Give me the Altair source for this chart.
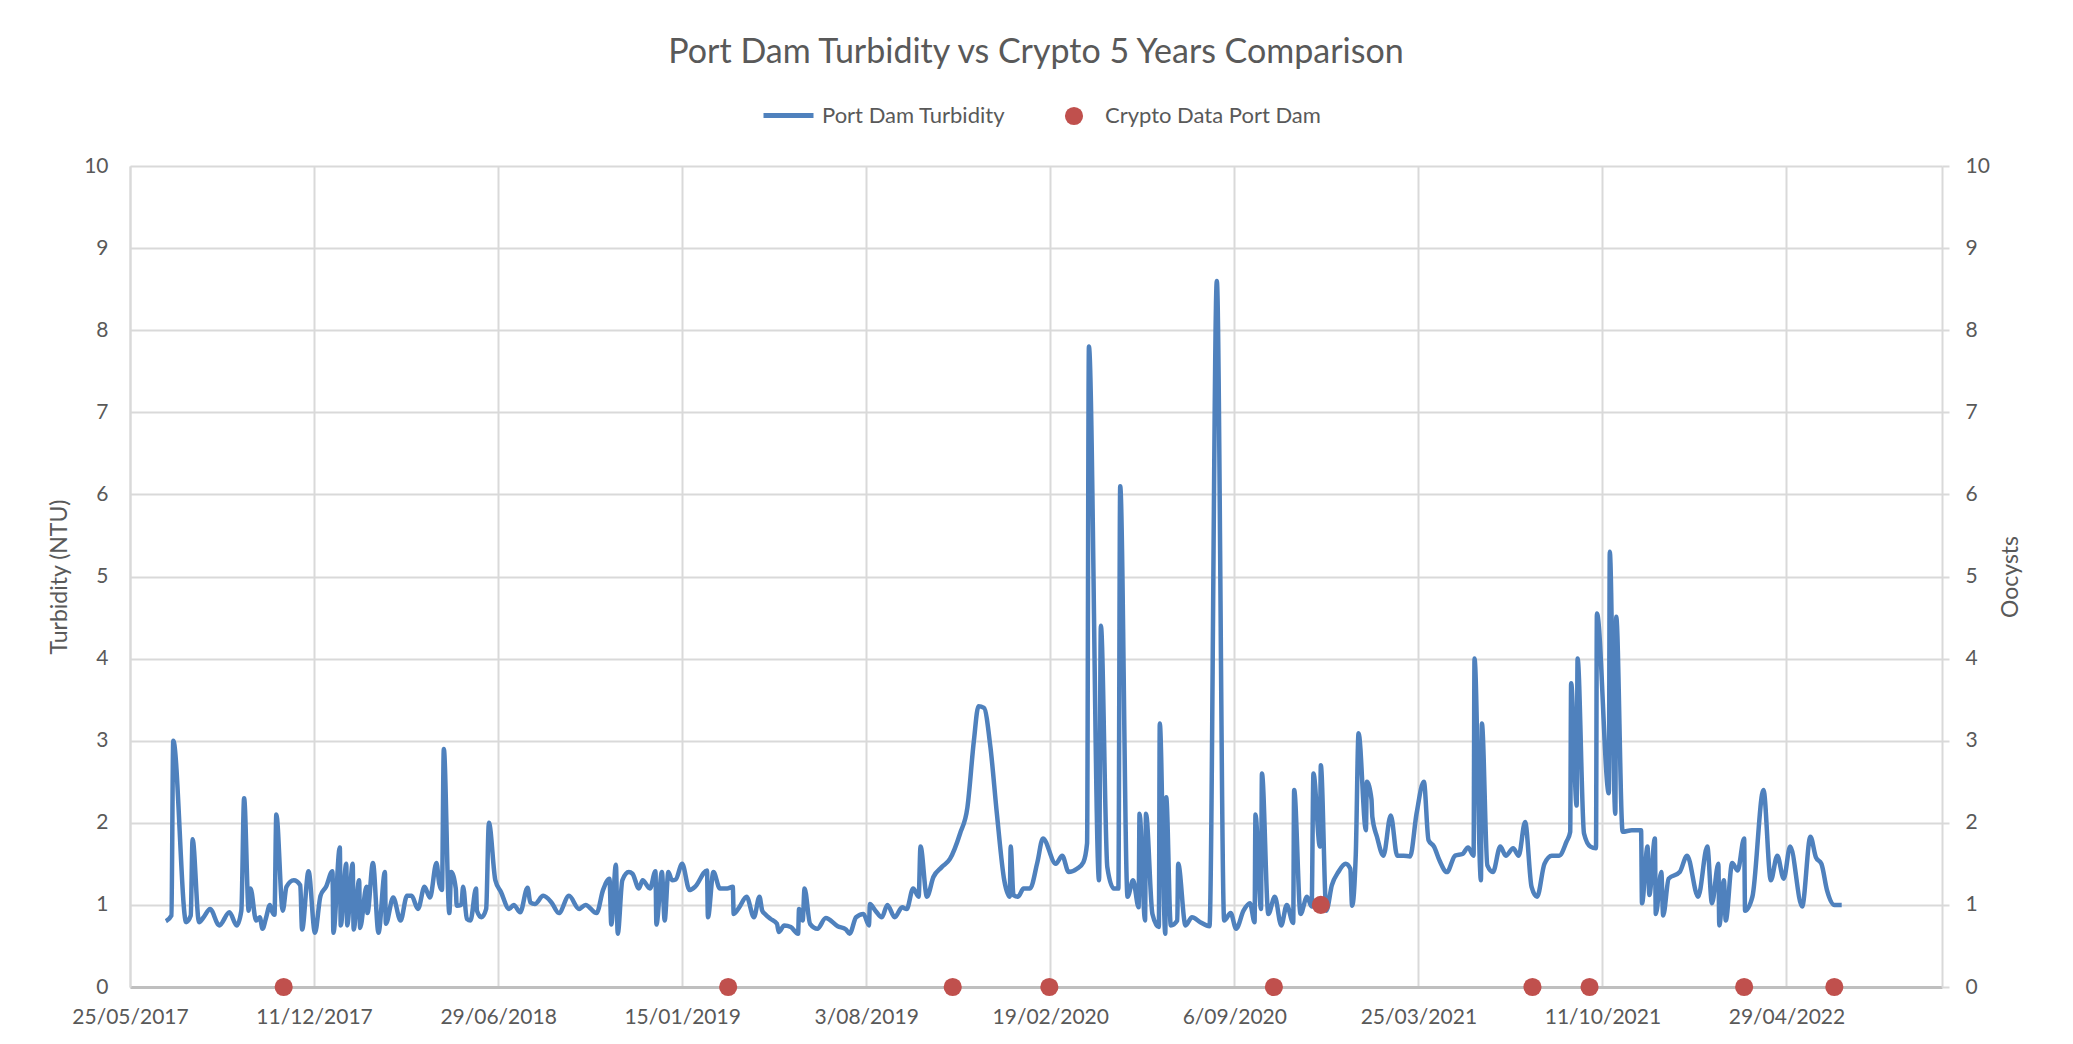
import altair as alt
import pandas as pd

# Port Dam turbidity readings (NTU)
turbidity_dates = [
    "2017-07-03", "2017-07-09", "2017-07-11", "2017-07-25", "2017-07-30", "2017-08-01",
    "2017-08-08", "2017-08-13", "2017-08-20", "2017-08-30", "2017-09-10", "2017-09-18",
    "2017-09-23", "2017-09-26", "2017-10-01", "2017-10-03", "2017-10-09", "2017-10-13",
    "2017-10-16", "2017-10-20", "2017-10-24", "2017-10-26", "2017-10-29", "2017-10-31",
    "2017-11-07", "2017-11-11", "2017-11-19", "2017-11-26", "2017-11-28", "2017-12-05",
    "2017-12-12", "2017-12-18", "2017-12-24", "2017-12-31", "2018-01-01", "2018-01-08",
    "2018-01-09", "2018-01-15", "2018-01-16", "2018-01-22", "2018-01-23", "2018-01-29",
    "2018-01-30", "2018-02-06", "2018-02-07", "2018-02-13", "2018-02-19", "2018-02-26",
    "2018-02-27", "2018-03-07", "2018-03-15", "2018-03-22", "2018-03-27", "2018-04-03",
    "2018-04-10", "2018-04-16", "2018-04-23", "2018-04-26", "2018-04-29", "2018-05-01",
    "2018-05-07", "2018-05-09", "2018-05-14", "2018-05-15", "2018-05-20", "2018-05-22",
    "2018-05-26", "2018-05-30", "2018-06-05", "2018-06-06", "2018-06-11", "2018-06-16",
    "2018-06-19", "2018-06-26", "2018-07-02", "2018-07-11", "2018-07-16", "2018-07-23",
    "2018-07-31", "2018-08-03", "2018-08-08", "2018-08-17", "2018-08-26", "2018-09-03",
    "2018-09-14", "2018-09-25", "2018-10-02", "2018-10-14", "2018-10-21", "2018-10-28",
    "2018-10-30", "2018-11-04", "2018-11-06", "2018-11-11", "2018-11-18", "2018-11-22",
    "2018-11-29", "2018-12-03", "2018-12-11", "2018-12-17", "2018-12-18", "2018-12-24",
    "2018-12-27", "2018-12-31", "2019-01-04", "2019-01-08", "2019-01-15", "2019-01-23",
    "2019-01-29", "2019-02-11", "2019-02-12", "2019-02-18", "2019-02-25", "2019-03-05",
    "2019-03-11", "2019-03-12", "2019-03-18", "2019-03-26", "2019-04-03", "2019-04-09",
    "2019-04-12", "2019-04-15", "2019-04-21", "2019-04-28", "2019-04-30", "2019-05-06",
    "2019-05-13", "2019-05-21", "2019-05-22", "2019-05-26", "2019-05-28", "2019-06-03",
    "2019-06-11", "2019-06-20", "2019-07-03", "2019-07-12", "2019-07-16", "2019-07-23",
    "2019-07-31", "2019-08-06", "2019-08-07", "2019-08-13", "2019-08-20", "2019-08-26",
    "2019-09-03", "2019-09-11", "2019-09-16", "2019-09-23", "2019-09-29", "2019-10-01",
    "2019-10-08", "2019-10-15", "2019-10-24", "2019-11-02", "2019-11-13", "2019-11-21",
    "2019-11-28", "2019-12-03", "2019-12-09", "2019-12-16", "2019-12-23", "2019-12-31",
    "2020-01-06", "2020-01-07", "2020-01-10", "2020-01-15", "2020-01-21", "2020-01-28",
    "2020-02-05", "2020-02-11", "2020-02-25", "2020-03-03", "2020-03-10", "2020-03-19",
    "2020-03-26", "2020-03-30", "2020-04-01", "2020-04-12", "2020-04-14", "2020-04-21",
    "2020-04-28", "2020-05-03", "2020-05-05", "2020-05-13", "2020-05-19", "2020-05-25",
    "2020-05-26", "2020-06-01", "2020-06-02", "2020-06-09", "2020-06-16", "2020-06-17",
    "2020-06-23", "2020-06-24", "2020-06-29", "2020-07-06", "2020-07-07", "2020-07-15",
    "2020-07-22", "2020-07-31", "2020-08-10", "2020-08-18", "2020-08-26", "2020-09-02",
    "2020-09-08", "2020-09-16", "2020-09-23", "2020-09-28", "2020-09-29", "2020-10-05",
    "2020-10-06", "2020-10-13", "2020-10-20", "2020-10-27", "2020-11-02", "2020-11-09",
    "2020-11-10", "2020-11-17", "2020-11-24", "2020-11-29", "2020-12-01", "2020-12-08",
    "2020-12-09", "2020-12-15", "2020-12-21", "2020-12-28", "2021-01-05", "2021-01-10",
    "2021-01-12", "2021-01-16", "2021-01-19", "2021-01-27", "2021-01-28", "2021-02-02",
    "2021-02-03", "2021-02-08", "2021-02-15", "2021-02-23", "2021-03-02", "2021-03-09",
    "2021-03-16", "2021-03-23", "2021-03-31", "2021-04-05", "2021-04-11", "2021-04-17",
    "2021-04-25", "2021-05-04", "2021-05-12", "2021-05-18", "2021-05-24", "2021-05-25",
    "2021-06-01", "2021-06-02", "2021-06-08", "2021-06-14", "2021-06-22", "2021-06-28",
    "2021-07-06", "2021-07-12", "2021-07-19", "2021-07-26", "2021-08-01", "2021-08-09",
    "2021-08-17", "2021-08-25", "2021-09-02", "2021-09-06", "2021-09-07", "2021-09-13",
    "2021-09-14", "2021-09-21", "2021-09-28", "2021-10-04", "2021-10-05", "2021-10-18",
    "2021-10-19", "2021-10-25", "2021-10-26", "2021-11-02", "2021-11-12", "2021-11-22",
    "2021-11-23", "2021-11-29", "2021-12-01", "2021-12-07", "2021-12-08", "2021-12-14",
    "2021-12-16", "2021-12-22", "2022-01-03", "2022-01-11", "2022-01-23", "2022-02-02",
    "2022-02-07", "2022-02-14", "2022-02-15", "2022-02-20", "2022-02-22", "2022-03-01",
    "2022-03-07", "2022-03-14", "2022-03-15", "2022-03-23", "2022-04-04", "2022-04-12",
    "2022-04-19", "2022-04-26", "2022-05-03", "2022-05-16", "2022-05-25", "2022-05-31",
    "2022-06-06", "2022-06-12", "2022-06-20", "2022-06-28",
]
turbidity_ntu = [
    0.80, 0.87, 3.00, 0.79, 0.87, 1.80,
    0.79, 0.85, 0.95, 0.75, 0.91, 0.75,
    0.93, 2.30, 0.93, 1.20, 0.81, 0.85,
    0.71, 0.85, 1.00, 0.93, 0.88, 2.10,
    0.93, 1.22, 1.30, 1.24, 0.70, 1.41,
    0.66, 1.11, 1.22, 1.41, 0.66, 1.70,
    0.75, 1.50, 0.75, 1.50, 0.70, 1.30,
    0.72, 1.22, 0.90, 1.51, 0.66, 1.40,
    0.77, 1.09, 0.81, 1.11, 1.11, 0.95,
    1.22, 1.09, 1.51, 1.26, 1.18, 2.90,
    0.90, 1.40, 1.20, 0.99, 1.00, 1.22,
    0.83, 0.81, 1.20, 0.93, 0.85, 0.95,
    2.00, 1.30, 1.16, 0.95, 1.00, 0.91,
    1.21, 1.03, 1.01, 1.11, 1.03, 0.90,
    1.11, 0.95, 1.00, 0.90, 1.18, 1.32,
    0.76, 1.49, 0.65, 1.30, 1.40, 1.38,
    1.20, 1.30, 1.20, 1.41, 0.76, 1.40,
    0.81, 1.40, 1.30, 1.31, 1.50, 1.18,
    1.22, 1.42, 0.85, 1.40, 1.20, 1.20,
    1.22, 0.89, 0.97, 1.10, 0.85, 1.10,
    0.93, 0.89, 0.83, 0.77, 0.67, 0.75,
    0.73, 0.65, 0.95, 0.81, 1.20, 0.77,
    0.71, 0.84, 0.74, 0.70, 0.65, 0.85,
    0.89, 0.75, 1.01, 0.93, 0.85, 1.00,
    0.85, 0.97, 0.95, 1.20, 1.10, 1.71,
    1.10, 1.34, 1.46, 1.56, 1.87, 2.19,
    3.00, 3.42, 3.40, 2.92, 2.11, 1.30,
    1.10, 1.71, 1.12, 1.10, 1.20, 1.20,
    1.52, 1.81, 1.50, 1.60, 1.40, 1.44,
    1.52, 1.75, 7.80, 1.30, 4.40, 1.46,
    1.20, 1.20, 6.10, 1.10, 1.30, 0.97,
    2.11, 0.81, 2.11, 0.89, 0.73, 3.21,
    0.65, 2.31, 0.75, 0.81, 1.50, 0.75,
    0.85, 0.79, 0.74, 8.60, 0.81, 0.90,
    0.71, 0.93, 1.02, 0.79, 2.10, 0.95,
    2.60, 0.89, 1.10, 0.75, 1.00, 0.78,
    2.40, 0.89, 1.10, 0.98, 2.60, 1.71,
    2.70, 0.93, 1.24, 1.40, 1.50, 1.44,
    0.99, 1.62, 3.09, 1.91, 2.50, 2.29,
    2.07, 1.83, 1.60, 2.09, 1.60, 1.60,
    1.59, 2.11, 2.50, 1.79, 1.71, 1.54,
    1.40, 1.60, 1.62, 1.70, 1.60, 4.00,
    1.30, 3.21, 1.48, 1.40, 1.71, 1.60,
    1.69, 1.60, 2.01, 1.22, 1.10, 1.50,
    1.60, 1.60, 1.77, 1.89, 3.70, 2.21,
    4.00, 1.87, 1.71, 1.69, 4.55, 2.36,
    5.30, 2.11, 4.51, 1.89, 1.91, 1.91,
    1.02, 1.71, 1.12, 1.81, 0.89, 1.40,
    0.87, 1.32, 1.40, 1.60, 1.10, 1.71,
    1.02, 1.50, 0.75, 1.30, 0.81, 1.51,
    1.42, 1.81, 0.93, 1.10, 2.40, 1.30,
    1.60, 1.32, 1.71, 0.98, 1.83, 1.58,
    1.50, 1.18, 1.00, 1.00,
]

# Cryptosporidium sampling results (oocysts)
crypto_dates = [
    "2017-11-08", "2019-03-06", "2019-11-05", "2020-02-18", "2020-10-19",
    "2020-12-09", "2021-07-27", "2021-09-27", "2022-03-14", "2022-06-20",
]
crypto_oocysts = [0, 0, 0, 0, 0, 1, 0, 0, 0, 0]

# Date axis: ticks every 200 days
tick_dates = [
    "2017-05-25", "2017-12-11", "2018-06-29", "2019-01-15", "2019-08-03",
    "2020-02-19", "2020-09-06", "2021-03-25", "2021-10-11", "2022-04-29",
]
x_start = "2017-05-25"
x_end = "2022-10-15"

LINE_NAME = "Port Dam Turbidity"
DOT_NAME = "Crypto Data Port Dam"
BLUE = "#4f81bd"
RED = "#c0504d"
GREY_TEXT = "#595959"
GRID = "#d9d9d9"
FONT = "Lato"


def to_ms(s):
    return int(pd.Timestamp(s, tz="UTC").timestamp() * 1000)


turbidity_df = pd.DataFrame(
    {"date": turbidity_dates, "ntu": turbidity_ntu, "series": LINE_NAME}
)
crypto_df = pd.DataFrame(
    {"date": crypto_dates, "oocysts": crypto_oocysts, "series": DOT_NAME}
)

x_scale = alt.Scale(type="utc", domain=[to_ms(x_start), to_ms(x_end)])
x_axis = alt.Axis(
    values=[to_ms(d) for d in tick_dates],
    format="%-d/%m/%Y",
    grid=True,
    gridColor=GRID,
    gridWidth=2,
    domainColor="#bfbfbf",
    domainWidth=3,
    ticks=False,
    labelPadding=19,
    labelOverlap=False,
    labelFlush=False,
    labelBound=False,
)

line = (
    alt.Chart(turbidity_df)
    .mark_line(interpolate="monotone", strokeWidth=4.5, strokeJoin="round")
    .encode(
        x=alt.X("date:T", scale=x_scale, axis=x_axis, title=None),
        y=alt.Y(
            "ntu:Q",
            scale=alt.Scale(domain=[0, 10]),
            axis=alt.Axis(
                title="Turbidity (NTU)",
                values=list(range(11)),
                grid=True,
                gridColor=GRID,
                gridWidth=2,
                domainColor=GRID,
                domainWidth=2,
                ticks=False,
                labelPadding=22,
                titlePadding=12,
            ),
        ),
        color=alt.Color(
            "series:N",
            scale=alt.Scale(domain=[LINE_NAME], range=[BLUE]),
            legend=alt.Legend(
                title=None,
                orient="none",
                legendX=631,
                legendY=-78,
                symbolType="stroke",
                symbolSize=2500,
                symbolStrokeWidth=5,
                labelOffset=6,
            ),
        ),
    )
)

dots = (
    alt.Chart(crypto_df)
    .mark_circle(size=330, opacity=1)
    .encode(
        x=alt.X("date:T", scale=x_scale, axis=x_axis, title=None),
        y=alt.Y(
            "oocysts:Q",
            scale=alt.Scale(domain=[0, 10]),
            axis=alt.Axis(
                title="Oocysts",
                orient="right",
                values=list(range(11)),
                grid=False,
                domainColor=GRID,
                domainWidth=2,
                ticks=True,
                tickSize=7,
                tickColor=GRID,
                tickWidth=2,
                labelPadding=16,
                titlePadding=33,
                titleAngle=270,
            ),
        ),
        fill=alt.Fill(
            "series:N",
            scale=alt.Scale(domain=[DOT_NAME], range=[RED]),
            legend=alt.Legend(
                title=None,
                orient="none",
                legendX=933,
                legendY=-61,
                symbolType="circle",
                symbolSize=330,
                labelOffset=20,
            ),
        ),
    )
)

chart = (
    alt.layer(line, dots)
    .resolve_scale(y="independent", color="independent", fill="independent")
    .properties(
        width=1812,
        height=821,
        autosize=alt.AutoSizeParams(type="none"),
        padding={"left": 130, "top": 166, "right": 131, "bottom": 57},
        background="white",
        title=alt.TitleParams(
            "Port Dam Turbidity vs Crypto 5 Years Comparison",
            anchor="middle",
            fontSize=34,
            font=FONT,
            fontWeight="normal",
            color=GREY_TEXT,
            offset=18,
        ),
    )
    .configure_view(stroke=None)
    .configure_axis(
        labelFont=FONT,
        labelFontSize=21,
        labelColor=GREY_TEXT,
        titleFont=FONT,
        titleFontSize=23,
        titleFontWeight="normal",
        titleColor=GREY_TEXT,
    )
    .configure_legend(
        labelFont=FONT,
        labelFontSize=22,
        labelColor=GREY_TEXT,
        labelLimit=600,
        padding=0,
    )
)

chart.save("out.html", embed_options={"renderer": "svg", "actions": False})
